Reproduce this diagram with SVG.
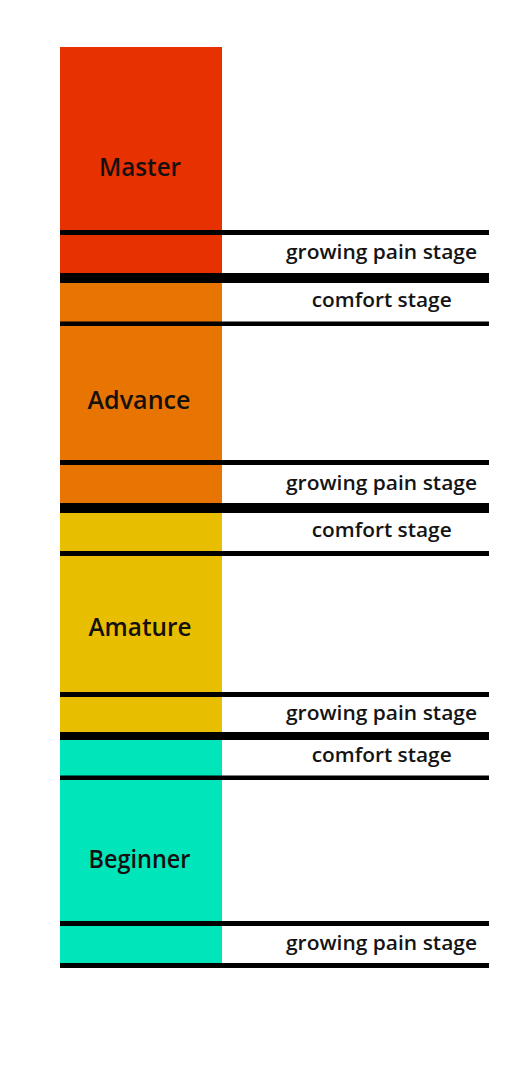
<svg xmlns="http://www.w3.org/2000/svg" width="506" height="1080" viewBox="0 0 506 1080">
<style>
.lvl{font-family:"Open Sans","Liberation Sans",sans-serif;font-weight:600;font-size:25px;fill:#141010;text-anchor:middle}
.stg{font-family:"Open Sans","Liberation Sans",sans-serif;font-weight:600;font-size:19px;fill:#141414;text-anchor:middle}
.ln{fill:#000}
</style>
<rect width="506" height="1080" fill="#fff"/>
<g id="master"><rect x="60" y="47" width="162" height="228" fill="#E83100"/><text class="lvl" x="140" y="176" textLength="82" lengthAdjust="spacingAndGlyphs">Master</text></g>
<g id="advance"><rect x="60" y="281" width="162" height="224" fill="#E87502"/><text class="lvl" x="139" y="409" textLength="103" lengthAdjust="spacingAndGlyphs">Advance</text></g>
<g id="amature"><rect x="60" y="511" width="162" height="223" fill="#E8BE00"/><text class="lvl" x="140" y="636" textLength="103" lengthAdjust="spacingAndGlyphs">Amature</text></g>
<g id="beginner"><rect x="60" y="738" width="162" height="227" fill="#00E6BA"/><text class="lvl" x="139.5" y="868" textLength="102" lengthAdjust="spacingAndGlyphs">Beginner</text></g>
<g id="stages">
<text class="stg" x="381.5" y="259" textLength="191" lengthAdjust="spacingAndGlyphs">growing pain stage</text>
<text class="stg" x="381.7" y="307" textLength="140" lengthAdjust="spacingAndGlyphs">comfort stage</text>
<text class="stg" x="381.5" y="490" textLength="191" lengthAdjust="spacingAndGlyphs">growing pain stage</text>
<text class="stg" x="381.7" y="537" textLength="140" lengthAdjust="spacingAndGlyphs">comfort stage</text>
<text class="stg" x="381.5" y="720" textLength="191" lengthAdjust="spacingAndGlyphs">growing pain stage</text>
<text class="stg" x="381.7" y="762" textLength="140" lengthAdjust="spacingAndGlyphs">comfort stage</text>
<text class="stg" x="381.5" y="950" textLength="191" lengthAdjust="spacingAndGlyphs">growing pain stage</text>
</g>
<g id="connectors">
<rect class="ln" x="60" y="230" width="429" height="5"/>
<rect class="ln" x="60" y="273" width="429" height="10"/>
<rect class="ln" x="60" y="321.5" width="429" height="4.5"/>
<rect class="ln" x="60" y="460" width="429" height="5"/>
<rect class="ln" x="60" y="503" width="429" height="10"/>
<rect class="ln" x="60" y="551" width="429" height="5"/>
<rect class="ln" x="60" y="692" width="429" height="5"/>
<rect class="ln" x="60" y="732" width="429" height="8"/>
<rect class="ln" x="60" y="775.5" width="429" height="4.5"/>
<rect class="ln" x="60" y="921" width="429" height="5"/>
<rect class="ln" x="60" y="963" width="429" height="5"/>
</g>
</svg>
